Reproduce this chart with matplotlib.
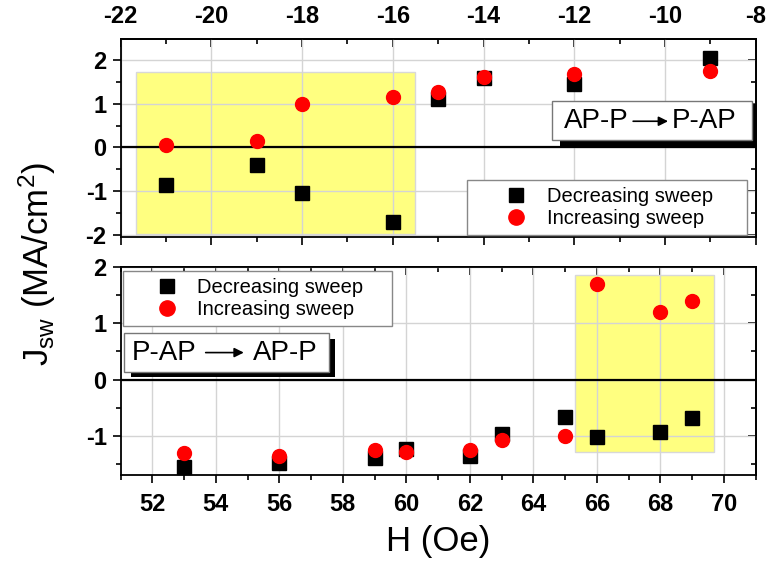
import numpy as np
import matplotlib
matplotlib.use("Agg")
import matplotlib.pyplot as plt
from matplotlib.patches import Rectangle
from matplotlib.ticker import MultipleLocator

plt.rcParams['font.family'] = ['Liberation Sans', 'DejaVu Sans']
plt.rcParams['mathtext.fontset'] = 'custom'
plt.rcParams['mathtext.rm'] = 'Liberation Sans'
plt.rcParams['mathtext.it'] = 'Liberation Sans'
plt.rcParams['axes.unicode_minus'] = False

# top panel: AP-P -> P-AP (negative field)
H_top = [-21, -19, -18, -16, -15, -14, -12, -9]
J_top_dec = [-0.85, -0.40, -1.05, -1.70, 1.12, 1.58, 1.45, 2.05]
J_top_inc = [0.05, 0.14, 1.00, 1.15, 1.28, 1.61, 1.69, 1.75]

# bottom panel: P-AP -> AP-P (positive field)
H_bot = [53, 56, 59, 60, 62, 63, 65, 66, 68, 69]
J_bot_dec = [-1.56, -1.49, -1.40, -1.24, -1.36, -0.96, -0.66, -1.03, -0.94, -0.69]
J_bot_inc = [-1.31, -1.36, -1.26, -1.29, -1.26, -1.08, -1.01, 1.70, 1.20, 1.40]

labels = ['Decreasing sweep', 'Increasing sweep']

# highlighted regions (x0, x1, y0, y1)
hl_top = (-21.65, -15.5, -1.98, 1.73)
hl_bot = (65.3, 69.7, -1.28, 1.85)

fig = plt.figure(figsize=(7.68, 5.67), dpi=100)
ax1 = fig.add_axes([0.157, 0.582, 0.827, 0.349])
ax2 = fig.add_axes([0.157, 0.162, 0.827, 0.367])

TICK_FS = 17


def bold_labels(labs):
    for lab in labs:
        lab.set_fontsize(TICK_FS)
        lab.set_fontweight('bold')


def style(ax, xlim, ylim, top_labels):
    ax.set_xlim(*xlim)
    ax.set_ylim(*ylim)
    ax.xaxis.set_major_locator(MultipleLocator(2))
    ax.xaxis.set_minor_locator(MultipleLocator(1))
    ax.yaxis.set_major_locator(MultipleLocator(1))
    ax.yaxis.set_minor_locator(MultipleLocator(0.5))
    for s in ax.spines.values():
        s.set_linewidth(1.3)
    ax.grid(True, which='major', color='#d4d4d4', lw=1)
    ax.set_axisbelow(True)
    ax.axhline(0, color='black', lw=1.6, zorder=2)
    ax.tick_params(which='major', direction='out', length=6, width=1.2, pad=4)
    ax.tick_params(which='minor', direction='out', length=3.5, width=1.2)
    ax.tick_params(axis='x', pad=7)
    bold_labels(ax.get_yticklabels())
    # right side: ticks pointing in, no labels
    sy = ax.secondary_yaxis('right')
    sy.yaxis.set_major_locator(MultipleLocator(1))
    sy.yaxis.set_minor_locator(MultipleLocator(0.5))
    sy.tick_params(which='major', direction='in', length=6, width=1.2, labelright=False)
    sy.tick_params(which='minor', direction='in', length=3.5, width=1.2)
    sy.spines['right'].set_linewidth(1.3)
    # top side: ticks pointing in
    sx = ax.secondary_xaxis('top')
    sx.xaxis.set_major_locator(MultipleLocator(2))
    sx.xaxis.set_minor_locator(MultipleLocator(1))
    sx.tick_params(which='major', direction='in', length=6, width=1.2,
                   labeltop=top_labels, pad=8)
    sx.tick_params(which='minor', direction='in', length=3.5, width=1.2)
    sx.spines['top'].set_linewidth(1.3)
    if top_labels:
        bold_labels(sx.get_xticklabels())
        ax.tick_params(axis='x', labelbottom=False)
    else:
        bold_labels(ax.get_xticklabels())


style(ax1, (-22, -8), (-2.05, 2.48), True)
style(ax2, (51, 71), (-1.7, 2.0), False)

for ax, hl in ((ax1, hl_top), (ax2, hl_bot)):
    ax.add_patch(Rectangle((hl[0], hl[2]), hl[1] - hl[0], hl[3] - hl[2],
                           facecolor='#ffff80', edgecolor='#d8d8d8', lw=1, zorder=0.2))

ax1.plot(H_top, J_top_dec, 's', color='black', ms=9.5, ls='none', label=labels[0], zorder=3)
ax1.plot(H_top, J_top_inc, 'o', color='red', ms=10, ls='none', label=labels[1], zorder=3)
ax2.plot(H_bot, J_bot_dec, 's', color='black', ms=9.5, ls='none', label=labels[0], zorder=3)
ax2.plot(H_bot, J_bot_inc, 'o', color='red', ms=10, ls='none', label=labels[1], zorder=3)

legkw = dict(fontsize=14.5, fancybox=False, framealpha=1, edgecolor='#888888',
             borderaxespad=0, borderpad=0.35, labelspacing=0.15, mode='expand',
             markerscale=1.1)
l1 = ax1.legend(loc='lower left', bbox_to_anchor=(0.545, 0.01, 0.441, 0.2),
                handlelength=4.2, handletextpad=-0.55, **legkw)
l2 = ax2.legend(loc='upper left', bbox_to_anchor=(0.004, 0.781, 0.423, 0.2),
                handlelength=3.7, handletextpad=-0.4, **legkw)
for leg in (l1, l2):
    leg.get_frame().set_linewidth(1)
    leg.set_zorder(6)


def transition_box(ax, box, shadow, t1, t2, xt1, xa0, xa1, xt2, yc):
    ax.add_patch(Rectangle((shadow[0], shadow[2]), shadow[1] - shadow[0], shadow[3] - shadow[2],
                           transform=ax.transAxes, facecolor='black', edgecolor='none', zorder=7))
    ax.add_patch(Rectangle((box[0], box[2]), box[1] - box[0], box[3] - box[2],
                           transform=ax.transAxes, facecolor='white', edgecolor='#777777',
                           lw=1, zorder=8))
    ax.text(xt1, yc, t1, transform=ax.transAxes, fontsize=20, va='center', ha='left', zorder=9)
    ax.text(xt2, yc, t2, transform=ax.transAxes, fontsize=20, va='center', ha='left', zorder=9)
    ax.annotate('', xy=(xa1, yc), xytext=(xa0, yc), xycoords='axes fraction',
                arrowprops=dict(arrowstyle='-|>', color='black', lw=1.2,
                                mutation_scale=14, shrinkA=0, shrinkB=0), zorder=9)


transition_box(ax1, (0.680, 0.994, 0.490, 0.687), (0.692, 1.0, 0.460, 0.672),
               'AP-P', 'P-AP', 0.698, 0.807, 0.862, 0.868, 0.585)
transition_box(ax2, (0.005, 0.328, 0.495, 0.683), (0.016, 0.338, 0.471, 0.654),
               'P-AP', 'AP-P', 0.018, 0.134, 0.194, 0.208, 0.589)

fig.text(0.048, 0.535, r'J$_{\mathrm{sw}}$ (MA/cm$^{2}$)', rotation=90,
         fontsize=25, va='center', ha='center')
fig.text(0.57, 0.045, 'H (Oe)', fontsize=25, va='center', ha='center')

fig.savefig('out.png', dpi=100)
